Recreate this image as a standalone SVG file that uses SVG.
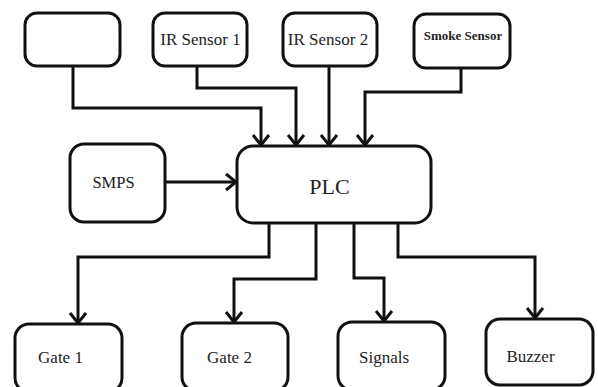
<svg xmlns="http://www.w3.org/2000/svg" width="598" height="387" viewBox="0 0 598 387">
<style>
.box{fill:#fff;stroke:#111;stroke-width:3}
.t{font-family:"Liberation Serif","Times New Roman",serif;fill:#222;text-anchor:middle}
.c{fill:none;stroke:#111;stroke-width:3}
</style>
<defs>
<marker id="ar" markerUnits="userSpaceOnUse" markerWidth="24" markerHeight="24" viewBox="-12 -12 24 24" refX="0" refY="0" orient="auto">
<path d="M-10,-8 L0,0 L-10,8" fill="none" stroke="#111" stroke-width="3"/>
</marker>
</defs>
<rect width="598" height="387" fill="#fff"/>
<g id="connectors">
<path class="c" d="M73,66 V108 H261 V145" marker-end="url(#ar)"/>
<path class="c" d="M197,66 V88 H296 V145" marker-end="url(#ar)"/>
<path class="c" d="M329,66 V145" marker-end="url(#ar)"/>
<path class="c" d="M461,68 V92 H365 V145" marker-end="url(#ar)"/>
<path class="c" d="M165,182 H236" marker-end="url(#ar)"/>
<path class="c" d="M269,223 V257 H78 V323" marker-end="url(#ar)"/>
<path class="c" d="M316,223 V279 H234 V322" marker-end="url(#ar)"/>
<path class="c" d="M354,223 V278 H384 V321" marker-end="url(#ar)"/>
<path class="c" d="M398,223 V257 H535 V318" marker-end="url(#ar)"/>
</g>
<g id="blank"><rect class="box" x="25" y="13" width="95" height="53" rx="12"/></g>
<g id="ir1"><rect class="box" x="153" y="13" width="94" height="53" rx="12"/><text class="t" x="200.5" y="45" font-size="17">IR Sensor 1</text></g>
<g id="ir2"><rect class="box" x="283" y="13" width="94" height="53" rx="12"/><text class="t" x="328" y="45" font-size="17">IR Sensor 2</text></g>
<g id="smoke"><rect class="box" x="414" y="14" width="96" height="54" rx="12"/><text class="t" x="463" y="40" font-size="13" font-weight="bold">Smoke Sensor</text></g>
<g id="smps"><rect class="box" x="70" y="144" width="95" height="78" rx="14"/><text class="t" x="113.5" y="188" font-size="16.5">SMPS</text></g>
<g id="plc"><rect class="box" x="237" y="146" width="194" height="77" rx="16"/><text class="t" x="329.5" y="194" font-size="22">PLC</text></g>
<g id="gate1"><rect class="box" x="15" y="324" width="107" height="68" rx="14"/><text class="t" x="60.5" y="363" font-size="17">Gate 1</text></g>
<g id="gate2"><rect class="box" x="182" y="323" width="106" height="68" rx="14"/><text class="t" x="229.5" y="363" font-size="17">Gate 2</text></g>
<g id="signals"><rect class="box" x="338" y="322" width="107" height="68" rx="14"/><text class="t" x="384" y="363" font-size="17">Signals</text></g>
<g id="buzzer"><rect class="box" x="486" y="319" width="107" height="66" rx="14"/><text class="t" x="530.5" y="362" font-size="17">Buzzer</text></g>
</svg>
